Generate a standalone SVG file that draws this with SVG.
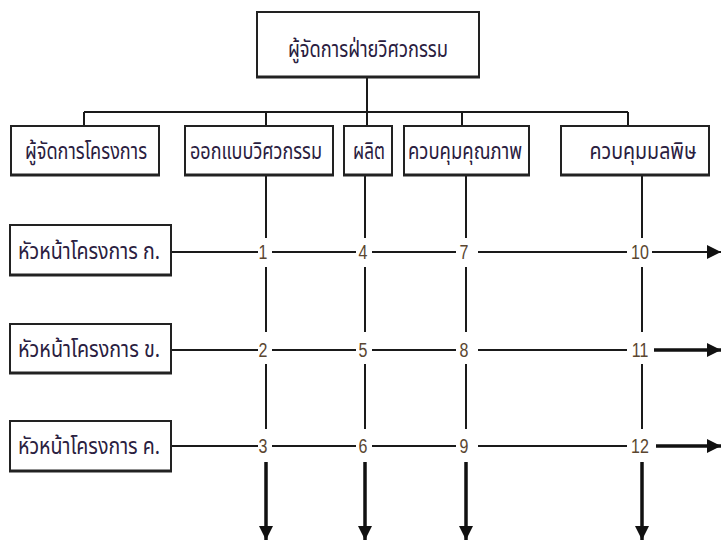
<svg xmlns="http://www.w3.org/2000/svg" width="722" height="542" viewBox="0 0 722 542">
  <style>
    .box { fill: #ffffff; stroke: #222222; stroke-width: 2; }
    .base { stroke: #222222; stroke-width: 3; }
    .lbl { font-family: "Noto Sans Thai", "Noto Sans", "DejaVu Sans", sans-serif; font-size: 19px; fill: #2a2040; text-anchor: middle; dominant-baseline: central; }
    .num { font-family: "Liberation Sans", Arial, sans-serif; font-size: 16px; fill: #5a4630; text-anchor: middle; dominant-baseline: central; }
    .ln { stroke: #1a1a1a; stroke-width: 2; fill: none; }
    .thick { stroke: #111111; stroke-width: 3.5; fill: none; }
  </style>
  <defs>
    <marker id="head" viewBox="0 0 10 10" refX="10" refY="5" markerWidth="14" markerHeight="14" markerUnits="userSpaceOnUse" orient="auto">
      <path d="M0,0 L10,5 L0,10 z" fill="#111111"/>
    </marker>
  </defs>
  <rect width="722" height="542" fill="#ffffff"/>

  <!-- connectors -->
  <g id="connectors">
    <!-- top tree -->
    <path class="ln" d="M367,77 V112 M84,112 H628 M84,112 V126 M266,112 V126 M367,112 V126 M462,112 V126 M628,112 V126"/>
    <!-- columns -->
    <path class="ln" d="M266,175 V238 M266,267 V332 M266,364 V429"/>
    <path class="ln" d="M365,175 V238 M365,267 V332 M365,364 V429"/>
    <path class="ln" d="M466,175 V238 M466,267 V332 M466,364 V429"/>
    <path class="ln" d="M642,175 V238 M642,267 V332 M642,364 V429"/>
    <line class="thick" x1="266" y1="462" x2="266" y2="540" marker-end="url(#head)"/>
    <line class="thick" x1="365" y1="462" x2="365" y2="540" marker-end="url(#head)"/>
    <line class="thick" x1="466" y1="462" x2="466" y2="540" marker-end="url(#head)"/>
    <line class="thick" x1="642" y1="462" x2="642" y2="540" marker-end="url(#head)"/>
    <!-- rows -->
    <path class="ln" d="M171,252 H258 M272,252 H356 M372,252 H456 M478,252 H627"/>
    <line class="ln" x1="652" y1="252" x2="721" y2="252" marker-end="url(#head)"/>
    <path class="ln" d="M171,350 H258 M272,350 H356 M372,350 H456 M478,350 H627"/>
    <line class="thick" x1="654" y1="350" x2="721" y2="350" marker-end="url(#head)"/>
    <path class="ln" d="M171,446 H258 M272,446 H356 M372,446 H456 M478,446 H627"/>
    <line class="thick" x1="656" y1="446" x2="721" y2="446" marker-end="url(#head)"/>
  </g>

  <!-- crossing numbers, stretched a little in height -->
  <g id="cells">
    <text class="num" transform="translate(263,252) scale(1,1.25)">1</text>
    <text class="num" transform="translate(363,252) scale(1,1.25)">4</text>
    <text class="num" transform="translate(464,252) scale(1,1.25)">7</text>
    <text class="num" transform="translate(640,252) scale(1,1.25)">10</text>
    <text class="num" transform="translate(263,350) scale(1,1.25)">2</text>
    <text class="num" transform="translate(363,350) scale(1,1.25)">5</text>
    <text class="num" transform="translate(464,350) scale(1,1.25)">8</text>
    <text class="num" transform="translate(640,350) scale(1,1.25)">11</text>
    <text class="num" transform="translate(263,446) scale(1,1.25)">3</text>
    <text class="num" transform="translate(363,446) scale(1,1.25)">6</text>
    <text class="num" transform="translate(464,446) scale(1,1.25)">9</text>
    <text class="num" transform="translate(640,446) scale(1,1.25)">12</text>
  </g>

  <g id="engineering-manager">
    <rect class="box" x="257" y="12" width="222" height="65"/>
    <line class="base" x1="256" y1="77" x2="480" y2="77"/>
    <text class="lbl" transform="translate(368,50) scale(1,1.25)" textLength="160" lengthAdjust="spacingAndGlyphs">ผู้จัดการฝ่ายวิศวกรรม</text>
  </g>

  <g id="project-manager">
    <rect class="box" x="11" y="126" width="148" height="49"/>
    <line class="base" x1="10" y1="175" x2="160" y2="175"/>
    <text class="lbl" transform="translate(86,152) scale(1,1.25)" textLength="122" lengthAdjust="spacingAndGlyphs">ผู้จัดการโครงการ</text>
  </g>
  <g id="design">
    <rect class="box" x="185" y="126" width="148" height="49"/>
    <line class="base" x1="184" y1="175" x2="334" y2="175"/>
    <text class="lbl" transform="translate(256,152) scale(1,1.25)" textLength="132" lengthAdjust="spacingAndGlyphs">ออกแบบวิศวกรรม</text>
  </g>
  <g id="production">
    <rect class="box" x="344" y="126" width="48" height="49"/>
    <line class="base" x1="343" y1="175" x2="393" y2="175"/>
    <text class="lbl" transform="translate(369,152) scale(1,1.25)" textLength="32" lengthAdjust="spacingAndGlyphs">ผลิต</text>
  </g>
  <g id="quality">
    <rect class="box" x="404" y="126" width="125" height="49"/>
    <line class="base" x1="403" y1="175" x2="530" y2="175"/>
    <text class="lbl" transform="translate(465,152) scale(1,1.25)" textLength="114" lengthAdjust="spacingAndGlyphs">ควบคุมคุณภาพ</text>
  </g>
  <g id="pollution">
    <rect class="box" x="561" y="126" width="148" height="49"/>
    <line class="base" x1="560" y1="175" x2="710" y2="175"/>
    <text class="lbl" transform="translate(643,152) scale(1,1.25)" textLength="107" lengthAdjust="spacingAndGlyphs">ควบคุมมลพิษ</text>
  </g>

  <g id="lead-a">
    <rect class="box" x="10" y="225" width="161" height="50"/>
    <line class="base" x1="9" y1="275" x2="172" y2="275"/>
    <text class="lbl" transform="translate(89,252) scale(1,1.25)" textLength="142" lengthAdjust="spacingAndGlyphs">หัวหน้าโครงการ ก.</text>
  </g>
  <g id="lead-b">
    <rect class="box" x="10" y="324" width="161" height="49"/>
    <line class="base" x1="9" y1="373" x2="172" y2="373"/>
    <text class="lbl" transform="translate(89,350) scale(1,1.25)" textLength="142" lengthAdjust="spacingAndGlyphs">หัวหน้าโครงการ ข.</text>
  </g>
  <g id="lead-c">
    <rect class="box" x="10" y="421" width="161" height="50"/>
    <line class="base" x1="9" y1="471" x2="172" y2="471"/>
    <text class="lbl" transform="translate(89,447) scale(1,1.25)" textLength="142" lengthAdjust="spacingAndGlyphs">หัวหน้าโครงการ ค.</text>
  </g>
</svg>
